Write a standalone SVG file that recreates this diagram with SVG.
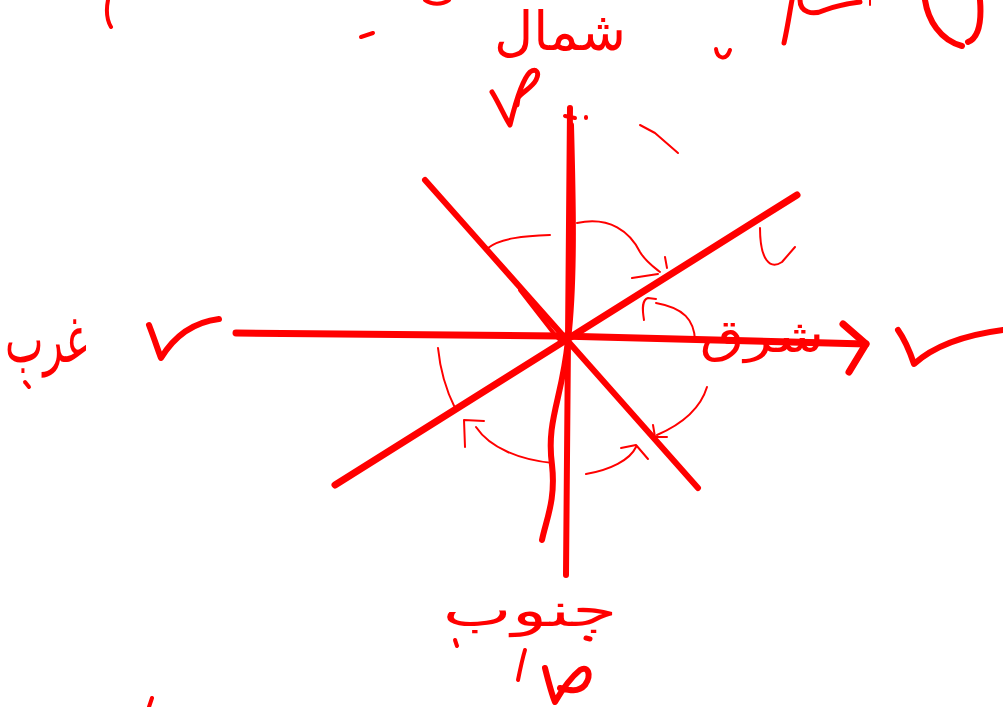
<svg xmlns="http://www.w3.org/2000/svg" width="1003" height="707" viewBox="0 0 1003 707">
<style>
.s{fill:none;stroke:#ff0000;stroke-linecap:round;stroke-linejoin:round}
.w7{stroke-width:7}
.w6{stroke-width:6}
.w5{stroke-width:5}
.w4{stroke-width:4}
.w2{stroke-width:2}
.lbl{fill:#ff0000;font-family:"DejaVu Sans",sans-serif;font-weight:normal;text-anchor:middle}
</style>
<rect width="1003" height="707" fill="#ffffff"/>
<g id="stray-top">
<path class="s w4" d="M108,0 C106,10 107,20 111,27"/>
<path class="s w4" d="M361,37 L373,33"/>
<path class="s w4" d="M425,0 C432,5 442,5 449,0"/>
<path class="s w4" d="M716,49 C717,58 726,62 730,50"/>
<path class="s w5" d="M784,43 C788,25 790,10 792,0 M800,0 C800,12 812,16 825,10 C835,6 845,4 860,2"/>
<path class="s w2" d="M870,0 L870,5"/>
<path class="s w6" d="M925,0 C928,20 940,40 962,46 M968,42 C978,38 982,25 980,0"/>
</g>
<g id="connectors">
<path class="s w7" d="M236,333 L560,336 L866,344"/>
<path class="s w7" d="M843,324 L866,344 L849,372"/>
<path class="s w6" d="M570,108 L568,340 L566,575"/>
<path class="s w4" d="M565,116 L575,118 M586,117 L586,118"/>
<path class="s w6" d="M571,125 C573,200 575,280 568,340 C562,400 546,420 552,465 C556,500 546,520 542,540"/>
<path class="s w6" d="M425,180 L698,488"/>
<path class="s w4" d="M520,290 L555,335 L560,340"/>
<path class="s w7" d="M335,485 L797,195"/>
<path class="s w2" d="M640,125 L655,133 L678,153"/>
<path class="s w2" d="M760,228 C760,260 770,270 782,262 L795,247"/>
<path class="s w2" d="M577,223 C610,216 630,232 640,252 C646,262 655,268 660,272 M632,278 L658,274 M665,257 L667,268"/>
<path class="s w2" d="M488,248 C500,238 525,236 550,235"/>
<path class="s w2" d="M695,340 C694,320 684,308 656,303 M644,320 C642,308 642,300 648,298 L656,299"/>
<path class="s w2" d="M707,387 C700,410 680,425 657,435 M653,425 L655,437 L667,437"/>
<path class="s w2" d="M586,474 C610,470 630,460 636,447 M621,448 L636,445 L648,459"/>
<path class="s w2" d="M553,463 C520,460 490,448 476,427 M465,447 L464,420 L484,421"/>
<path class="s w2" d="M438,348 C440,368 446,390 455,408"/>
</g>
<g id="north">
<text class="lbl" x="560" y="50" font-size="54">شمال</text>
<path class="s w5" d="M492,92 C500,105 505,118 510,125 C516,100 522,80 530,72 C536,68 540,72 536,80 C532,88 522,92 518,98 L517,105"/>
</g>
<g id="west">
<text class="lbl" transform="translate(46,362) scale(0.85,1.35)" font-size="48">غرب</text>
<path class="s w6" d="M149,325 C154,338 158,350 161,358 C175,335 195,322 219,319"/>
<path class="s w4" d="M25,382 L29,387"/>
</g>
<g id="east">
<text class="lbl" transform="translate(762,352) scale(1.25,1)" font-size="46">شرق</text>
<path class="s w6" d="M898,330 C905,340 910,352 914,364 C935,345 965,335 1003,330"/>
</g>
<g id="south">
<text class="lbl" transform="translate(530,626) scale(1.6,1)" font-size="46">جنوب</text>
<path class="s w4" d="M455,640 L457,646"/>
<path class="s w4" d="M525,650 C522,660 520,670 518,680"/>
<path class="s w6" d="M545,668 C548,680 552,695 555,702 C562,690 570,678 580,670 C588,665 592,675 585,685 C578,693 568,690 560,688"/>
<path class="s w5" d="M586,638 L590,639"/>
</g>
<g id="stray-bottom">
<path class="s w4" d="M152,698 L149,707"/>
</g>
</svg>
